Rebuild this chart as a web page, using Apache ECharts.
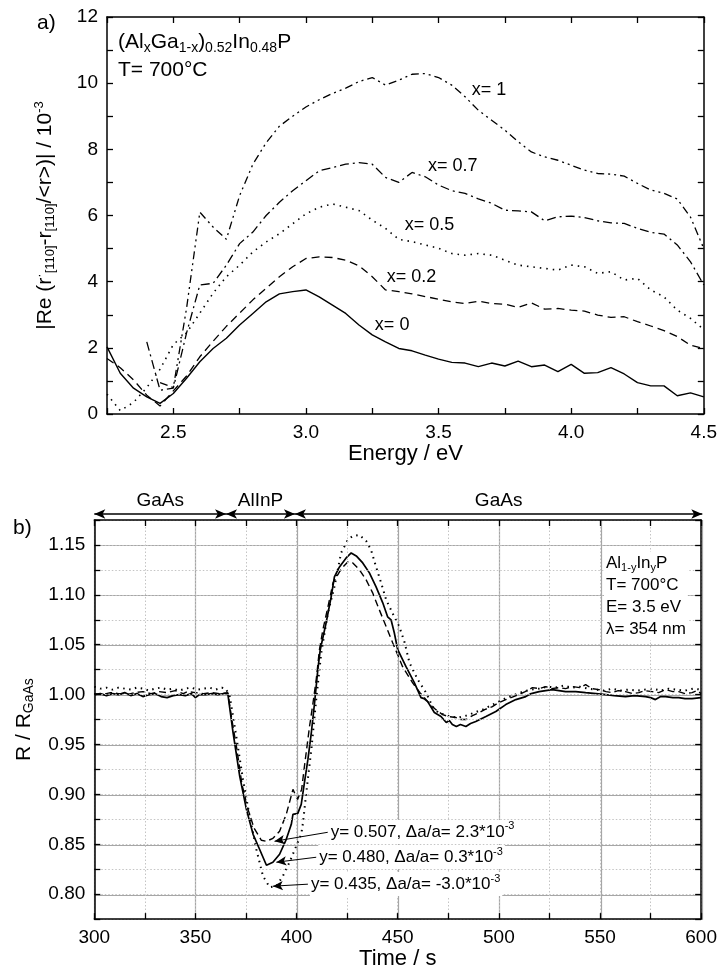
<!DOCTYPE html>
<html><head><meta charset="utf-8">
<script src="https://cdn.jsdelivr.net/npm/echarts@6/dist/echarts.min.js"></script>
<style>html,body{margin:0;padding:0;background:#fff}#c{width:720px;height:971px}</style>
</head><body><div id="c"></div>
<script>
// ---------- Panel a) data ----------
const energy = [2.25,2.30,2.35,2.40,2.45,2.50,2.55,2.60,2.65,2.70,2.75,2.80,2.85,2.90,2.95,3.00,3.05,3.10,3.15,3.20,3.25,3.30,3.35,3.40,3.45,3.50,3.55,3.60,3.65,3.70,3.75,3.80,3.85,3.90,3.95,4.00,4.05,4.10,4.15,4.20,4.25,4.30,4.35,4.40,4.45,4.50];
const rasX0  = [2.03,1.23,0.78,0.52,0.32,0.62,1.08,1.58,1.98,2.29,2.69,3.04,3.39,3.63,3.70,3.75,3.54,3.29,3.04,2.69,2.39,2.18,1.98,1.91,1.78,1.66,1.56,1.54,1.43,1.54,1.45,1.60,1.43,1.48,1.28,1.50,1.23,1.25,1.40,1.21,0.95,0.85,0.85,0.55,0.64,0.52];
const rasX02 = [1.68,1.40,1.03,0.57,0.24,0.70,1.15,1.73,2.20,2.65,3.05,3.45,3.80,4.15,4.45,4.70,4.75,4.73,4.65,4.48,4.15,3.75,3.70,3.63,3.55,3.47,3.39,3.34,3.41,3.34,3.32,3.22,3.36,3.17,3.19,3.14,3.11,2.99,2.92,2.94,2.79,2.66,2.52,2.34,2.08,1.98];
const rasX05 = [0.60,0.10,0.35,0.80,1.35,2.10,2.45,3.05,3.65,4.15,4.50,4.90,5.20,5.45,5.75,6.05,6.25,6.35,6.25,6.15,5.86,5.61,5.28,5.21,5.11,5.01,4.85,4.80,4.85,4.80,4.65,4.50,4.45,4.40,4.35,4.50,4.45,4.25,4.30,4.05,4.10,3.75,3.54,3.14,2.89,2.55];
const rasX07 = [null,null,null,2.18,0.72,0.78,2.45,3.90,3.95,4.50,5.15,5.50,6.00,6.40,6.75,7.05,7.35,7.45,7.55,7.60,7.55,7.15,7.00,7.30,7.17,6.92,6.75,6.67,6.50,6.37,6.16,6.14,6.11,5.84,5.96,5.98,5.94,5.84,5.78,5.76,5.61,5.49,5.44,5.11,4.60,3.90];
const rasX1  = [null,null,null,null,0.95,0.80,3.20,6.10,5.65,5.28,6.60,7.55,8.20,8.70,9.00,9.28,9.50,9.69,9.85,10.05,10.17,9.94,10.09,10.27,10.29,10.17,9.94,9.59,9.18,8.88,8.58,8.23,7.92,7.77,7.67,7.52,7.37,7.27,7.25,7.19,6.97,6.77,6.67,6.50,5.95,5.00];
const curveLabelNames = ['x= 0','x= 0.2','x= 0.5','x= 0.7','x= 1'];
const curveLabelE = [3.258,3.303,3.371,3.458,3.623];
const curveLabelV = [2.69,4.14,5.71,7.49,9.79];

// ---------- Panel b) data ----------
const solidY480 = [[300,1.000],[303,1.001],[306,0.999],[309,1.001],[312,1.000],[315,1.002],[318,0.999],[321,1.001],[324,0.998],[327,1.000],[330,1.001],[333,0.998],[336,0.997],[339,0.999],[342,1.000],[345,0.999],[348,1.001],[350,0.997],[352,1.000],[355,1.000],[358,1.001],[361,1.000],[364,1.001],[366,1.001],[368.6,0.962],[371.9,0.918],[375.2,0.885],[378.5,0.860],[381.7,0.845],[385.1,0.829],[388.3,0.832],[391.6,0.840],[394.9,0.855],[397.4,0.870],[398.2,0.880],[400.6,0.881],[402.3,0.890],[403.9,0.912],[405.6,0.935],[407.3,0.962],[408.9,0.992],[410.5,1.025],[411.7,1.045],[414.6,1.072],[417.1,1.098],[418.7,1.118],[421.2,1.128],[424.5,1.137],[427,1.142],[429.5,1.139],[432.7,1.132],[436,1.122],[439.3,1.108],[442.6,1.092],[445,1.078],[446.7,1.075],[448.3,1.062],[450,1.045],[454.1,1.028],[458.2,1.012],[461.5,0.997],[463,0.996],[464.8,0.993],[468.1,0.982],[471.4,0.978],[474,0.972],[475.5,0.974],[477,0.970],[479,0.968],[481,0.970],[483.7,0.968],[486,0.971],[488.6,0.973],[493.6,0.978],[498.5,0.983],[503.4,0.990],[508.4,0.995],[513.3,0.998],[516,1.001],[519.9,1.003],[526.4,1.005],[533,1.003],[538,1.003],[542.9,1.002],[548,1.001],[552.8,1.000],[557,0.999],[562.6,0.998],[567,0.999],[572.5,0.998],[575,0.997],[577.4,0.995],[580,0.998],[582.4,0.998],[586,0.997],[588.9,0.997],[592,0.996],[595.5,0.996],[600,0.997]];
const dashedY507 = [[300,1.001],[304,1.000],[308,1.002],[312,1.001],[316,1.000],[320,1.002],[324,1.003],[328,1.001],[332,1.003],[336,1.002],[340,1.004],[344,1.001],[346,1.003],[350,1.002],[354,1.001],[358,1.002],[362,1.001],[366,1.002],[368,0.975],[370.5,0.945],[373,0.910],[376,0.885],[379,0.866],[382.6,0.854],[385.1,0.853],[388.3,0.856],[391.6,0.863],[394.9,0.880],[398.2,0.905],[400.5,0.895],[402.5,0.905],[404,0.930],[406.4,0.968],[408,0.990],[409.7,1.015],[411.3,1.045],[413,1.065],[415.5,1.088],[418,1.112],[421.2,1.123],[423,1.128],[425.3,1.133],[427.8,1.132],[431.1,1.125],[434.4,1.115],[437.6,1.102],[440.9,1.085],[444.3,1.068],[447.5,1.052],[452.4,1.028],[457.3,1.012],[461,1.002],[464,0.995],[467,0.988],[470,0.983],[472.2,0.980],[475,0.978],[478.8,0.977],[481,0.975],[483.7,0.975],[487,0.979],[490.3,0.982],[493,0.985],[496.8,0.988],[500,0.992],[503.4,0.995],[506,0.997],[510,1.000],[513,1.003],[516.6,1.007],[520,1.006],[523.2,1.008],[526,1.006],[529.8,1.007],[533,1.006],[536.4,1.008],[540,1.007],[542.9,1.010],[546,1.006],[549.5,1.005],[553,1.003],[556.1,1.002],[559,1.004],[562.6,1.003],[566,1.001],[569.2,1.002],[572,1.004],[575.8,1.003],[579,1.002],[582.4,1.005],[586,1.003],[588.9,1.003],[592,1.001],[595.5,1.002],[598,1.004],[600,1.001]];
const dottedY435 = [[300,1.008],[303,1.006],[306,1.007],[309,1.005],[312,1.007],[315,1.006],[318,1.005],[321,1.007],[324,1.006],[327,1.004],[330,1.006],[333,1.007],[336,1.005],[339,1.006],[342,1.004],[345,1.006],[348,1.007],[351,1.005],[354,1.006],[357,1.007],[360,1.005],[363,1.007],[365,1.006],[367,0.998],[370.2,0.958],[373.5,0.915],[376.8,0.878],[380.1,0.845],[383.4,0.818],[386.7,0.807],[390,0.808],[393.2,0.818],[396.5,0.832],[399.8,0.848],[402.3,0.860],[403.2,0.872],[404.8,0.902],[407.3,0.945],[409.7,0.995],[412.2,1.042],[415.5,1.082],[418.7,1.108],[422,1.142],[425.3,1.155],[427.8,1.159],[431.1,1.160],[434.4,1.154],[436.8,1.145],[439.3,1.128],[441.8,1.112],[444.3,1.095],[448.3,1.078],[450.8,1.068],[453.3,1.053],[455.8,1.032],[459.9,1.015],[464,1.002],[467.2,0.988],[470,0.982],[473,0.980],[476,0.978],[480,0.977],[484,0.979],[488,0.982],[492,0.985],[496,0.989],[500,0.993],[504,0.997],[508,1.000],[512,1.003],[516,1.005],[520,1.006],[524,1.008],[528,1.007],[532,1.009],[536,1.007],[540,1.008],[544,1.006],[548,1.005],[552,1.004],[556,1.006],[560,1.004],[564,1.005],[568,1.004],[572,1.005],[576,1.006],[580,1.004],[584,1.006],[588,1.005],[592,1.004],[596,1.006],[600,1.005]];
const layerNames = ['GaAs','AlInP','GaAs'];
const layerStart = [300,365,399];
const layerEnd   = [365,399,600];
const annoText = ['y= 0.507, \u0394a/a= 2.3*10{sup|-3}','y= 0.480, \u0394a/a= 0.3*10{sup|-3}','y= 0.435, \u0394a/a= -3.0*10{sup|-3}'];
const annoTip  = [[389.1,0.853],[390.0,0.832],[388.3,0.808]];
const annoTail = [[415.4,0.862],[409.7,0.837],[405.6,0.810]];

// ---------- styling ----------
const FONT = '"Liberation Sans", Arial, Helvetica, sans-serif';
const BLACK = '#000';
const supS = {fontSize: 12, fontFamily: FONT, color: BLACK, padding: [0,0,11,0]};
const subS = {fontSize: 12, fontFamily: FONT, color: BLACK, padding: [11,0,0,0]};

function frameAxis(extra) {
  return Object.assign({
    type: 'value',
    axisLine: {show: true, onZero: false, lineStyle: {color: BLACK, width: 1.5}},
    axisTick: {show: true, inside: true, length: 6, lineStyle: {color: BLACK, width: 1.3}},
    axisLabel: {show: false},
    splitLine: {show: false},
    z: 5
  }, extra);
}
const lblStyle = {color: BLACK, fontSize: 19, fontFamily: FONT, margin: 9, showMinLabel: true, showMaxLabel: true};

const topSeriesDefs = [
  {vals: rasX0,  type: 'solid', width: 1.4},
  {vals: rasX02, type: [8,5], width: 1.3},
  {vals: rasX05, type: [1.5,5], width: 1.6},
  {vals: rasX07, type: [9,4,2,4], width: 1.3},
  {vals: rasX1,  type: [8,4,2,4,2,4], width: 1.3}
];

const series = [];
topSeriesDefs.forEach((d, i) => {
  series.push({
    type: 'line', xAxisIndex: 0, yAxisIndex: 0, showSymbol: false, silent: true,
    data: energy.map((e, k) => [e, d.vals[k]]),
    lineStyle: {color: BLACK, width: d.width, type: d.type},
    markPoint: {
      symbol: 'circle', symbolSize: 1, itemStyle: {color: 'rgba(0,0,0,0)'}, silent: true,
      label: {show: true, position: 'right', distance: 0, formatter: '{b}', color: BLACK, fontSize: 18, fontFamily: FONT},
      data: [{name: curveLabelNames[i], coord: [curveLabelE[i], curveLabelV[i]]}]
    }
  });
});

const bottomDefs = [
  {data: dashedY507, type: [7,4], width: 1.4},
  {data: solidY480, type: 'solid', width: 1.7},
  {data: dottedY435, type: [1.5,4.5], width: 2}
];
bottomDefs.forEach((d, i) => {
  series.push({
    type: 'line', xAxisIndex: 2, yAxisIndex: 2, showSymbol: false, silent: true,
    data: d.data, z: 3,
    lineStyle: {color: BLACK, width: d.width, type: d.type},
    markLine: {
      silent: true, animation: false,
      lineStyle: {color: BLACK, width: 1, type: 'solid'},
      symbolSize: [7, 10],
      label: {show: true, position: 'end', distance: 2, color: BLACK, fontSize: 17, fontFamily: FONT,
        backgroundColor: '#fff', padding: [1,2,1,1], formatter: p => p.name, rich: {sup: {fontSize: 11, fontFamily: FONT, color: BLACK, padding: [0,0,11,0]}}},
      data: [[
        {name: annoText[i], coord: annoTip[i], symbol: 'arrow'},
        {coord: annoTail[i], symbol: 'none'}
      ]]
    }
  });
});

// header arrows (layer sequence)
series.push({
  type: 'line', xAxisIndex: 6, yAxisIndex: 6, showSymbol: false, silent: true,
  data: [[300, 0.5]], lineStyle: {opacity: 0},
  markLine: {
    silent: true, animation: false,
    symbol: ['arrow', 'arrow'], symbolSize: [7, 11],
    lineStyle: {color: BLACK, width: 1.6, type: 'solid'},
    label: {show: true, position: 'middle', formatter: p => p.name, color: BLACK, fontSize: 19, fontFamily: FONT, distance: 4},
    data: layerNames.map((n, i) => [{name: n, coord: [layerStart[i], 0.5]}, {coord: [layerEnd[i], 0.5]}])
  }
});

const option = {
  animation: false,
  backgroundColor: '#fff',
  grid: [
    {left: 107, top: 17, width: 598, height: 397},
    {left: 94.3, top: 520, width: 608, height: 400},
    {left: 94.3, top: 520, width: 608, height: 400},
    {left: 94.3, top: 545, width: 608, height: 350},
    {left: 94.3, top: 504, width: 608, height: 20}
  ],
  xAxis: [
    frameAxis({gridIndex: 0, position: 'bottom', min: 2.25, max: 4.5, interval: 0.25,
      axisLabel: Object.assign({show: true, formatter: v => (Math.abs(v*2 - Math.round(v*2)) < 1e-6 && v > 2.3) ? v.toFixed(1) : ''}, lblStyle),
      name: 'Energy / eV', nameLocation: 'middle', nameGap: 27,
      nameTextStyle: {color: BLACK, fontSize: 22, fontFamily: FONT}}),
    frameAxis({gridIndex: 0, position: 'top', min: 2.25, max: 4.5, interval: 0.25}),
    frameAxis({gridIndex: 1, position: 'bottom', min: 300, max: 600, interval: 25,
      axisLabel: Object.assign({show: true, formatter: v => (Math.round(v) % 50 === 0) ? String(Math.round(v)) : ''}, lblStyle),
      splitLine: {show: true, lineStyle: {color: '#c4c4c4', width: 1, type: [1.5, 2]}},
      name: 'Time / s', nameLocation: 'middle', nameGap: 28,
      nameTextStyle: {color: BLACK, fontSize: 22, fontFamily: FONT}}),
    frameAxis({gridIndex: 1, position: 'top', min: 300, max: 600, interval: 25}),
    {type: 'value', gridIndex: 2, min: 300, max: 600, interval: 50, z: 1,
      axisLine: {show: false}, axisTick: {show: false}, axisLabel: {show: false},
      splitLine: {show: true, lineStyle: {color: '#a6a6a6', width: 1.2}}},
    {type: 'value', gridIndex: 3, min: 300, max: 600, show: false},
    {type: 'value', gridIndex: 4, min: 300, max: 600, show: false}
  ],
  yAxis: [
    frameAxis({gridIndex: 0, position: 'left', min: 0, max: 12, interval: 1,
      axisLabel: Object.assign({show: true, formatter: v => (Math.round(v) % 2 === 0) ? String(Math.round(v)) : ''}, lblStyle),
      name: '|Re (r{sup|\u00b7}{sub|[110]}-r{sub|[110]}/<r>)| / 10{sup|-3}', nameLocation: 'middle', nameGap: 50, nameRotate: 90,
      nameTextStyle: {color: BLACK, fontSize: 21, fontFamily: FONT, rich: {sup: Object.assign({}, supS, {fontSize: 13}), sub: Object.assign({}, subS, {fontSize: 13})}}}),
    frameAxis({gridIndex: 0, position: 'right', min: 0, max: 12, interval: 1}),
    frameAxis({gridIndex: 1, position: 'left', min: 0.775, max: 1.175, interval: 0.025,
      axisLabel: Object.assign({show: true, formatter: v => (Math.abs(v*20 - Math.round(v*20)) < 1e-6) ? v.toFixed(2) : ''}, lblStyle),
      splitLine: {show: true, lineStyle: {color: '#c4c4c4', width: 1, type: [1.5, 2]}},
      name: 'R / R{sub|GaAs}', nameLocation: 'middle', nameGap: 58, nameRotate: 90,
      nameTextStyle: {color: BLACK, fontSize: 21, fontFamily: FONT, rich: {sub: Object.assign({}, subS, {fontSize: 14})}}}),
    frameAxis({gridIndex: 1, position: 'right', min: 0.775, max: 1.175, interval: 0.025}),
    {type: 'value', gridIndex: 2, min: 0, max: 1, show: false},
    {type: 'value', gridIndex: 3, min: 0.8, max: 1.15, interval: 0.05, z: 1,
      axisLine: {show: false}, axisTick: {show: false}, axisLabel: {show: false},
      splitLine: {show: true, lineStyle: {color: '#a6a6a6', width: 1.2}}},
    {type: 'value', gridIndex: 4, min: 0, max: 1, show: false}
  ],
  series: series,
  graphic: [
    {type: 'text', x: 37, y: 23, style: {text: 'a)', fontSize: 21, fontFamily: FONT, fill: BLACK, verticalAlign: 'middle'}},
    {type: 'text', x: 13, y: 528, style: {text: 'b)', fontSize: 21, fontFamily: FONT, fill: BLACK, verticalAlign: 'middle'}},
    {type: 'text', x: 118, y: 42, z: 10, style: {text: '(Al{sub|x}Ga{sub|1-x}){sub|0.52}In{sub|0.48}P', fontSize: 21, fontFamily: FONT, fill: BLACK, verticalAlign: 'middle',
      rich: {sub: {fontSize: 14, fontFamily: FONT, fill: BLACK, padding: [12,0,0,0]}}}},
    {type: 'text', x: 118, y: 70, z: 10, style: {text: 'T= 700\u00b0C', fontSize: 21, fontFamily: FONT, fill: BLACK, verticalAlign: 'middle'}},
    {type: 'text', x: 604, y: 552, z: 10, style: {text: 'Al{sub|1-y}In{sub|y}P\nT= 700\u00b0C\nE= 3.5 eV\n\u03bb= 354 nm', fontSize: 17, fontFamily: FONT, fill: BLACK,
      lineHeight: 22, backgroundColor: '#fff', padding: [0, 2, 0, 2], verticalAlign: 'top',
      rich: {sub: {fontSize: 11, fontFamily: FONT, fill: BLACK, padding: [10,0,0,0]}}}}
  ]
};

const chart = echarts.init(document.getElementById('c'), null, {renderer: 'canvas', width: 720, height: 971});
chart.setOption(option);
</script></body></html>
